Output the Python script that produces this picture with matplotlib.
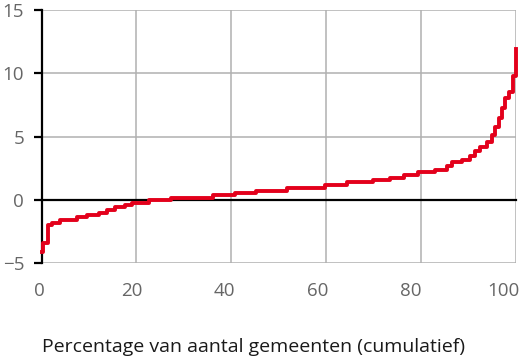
# -*- coding: utf-8 -*-

# Importing Libraries
import matplotlib
matplotlib.use('Agg')
import matplotlib.pyplot as plt
import matplotlib.transforms as mtransforms

# data: step points (x = cumulative %, y = value)
pct = [0, 0.4, 1.4, 2.3, 4.0, 7.5, 9.6, 12.1, 13.8, 15.6, 17.7, 19.1, 22.6,
       27.3, 36.2, 40.8, 45.3, 51.7, 59.8, 64.4, 70.0, 73.5, 76.5, 79.5,
       83.0, 85.5, 86.5, 88.6, 90.4, 91.5, 92.5, 93.9, 95.0, 95.7, 96.4,
       97.1, 97.8, 98.5, 99.4, 100]
values = [-4.1, -3.4, -1.95, -1.78, -1.58, -1.38, -1.2, -1.0, -0.8, -0.58,
          -0.38, -0.2, 0.03, 0.14, 0.36, 0.55, 0.74, 0.98, 1.22, 1.42,
          1.57, 1.77, 1.96, 2.2, 2.4, 2.7, 2.97, 3.18, 3.5, 3.83, 4.18, 4.6,
          5.12, 5.76, 6.45, 7.3, 8.03, 8.55, 9.82, 11.9]

x_ticks = [0, 20, 40, 60, 80, 100]
y_ticks = [-5, 0, 5, 10, 15]

font = 'Open Sans'
grey_text = '#666666'
red = '#e3001b'

fig = plt.figure(figsize=(5.32, 3.56), dpi=100)
ax = fig.add_axes([41.5 / 532, 1 - 263.3 / 356, (515.7 - 41.5) / 532, (263.3 - 10) / 356])

ax.step(pct, values, where='post', color=red, linewidth=2.8, clip_on=False, zorder=5)

ax.set_xlim(0, 100)
ax.set_ylim(-5, 15)

# grid
ax.set_xticks(x_ticks)
ax.set_yticks(y_ticks)
ax.grid(True, color='#b0b0b0', linewidth=1.1, zorder=0)
ax.set_axisbelow(True)

# spines
ax.spines['top'].set_visible(False)
ax.spines['right'].set_visible(False)
ax.spines['left'].set_linewidth(1.6)
ax.spines['left'].set_color('black')
ax.spines['bottom'].set_position(('data', 0))
ax.spines['bottom'].set_linewidth(1.6)
ax.spines['bottom'].set_color('black')
ax.spines['bottom'].set_zorder(4)

# ticks on zero line, no labels
ax.tick_params(axis='x', direction='out', length=4, width=1.6, color='black',
               labelbottom=False)
for t in ax.xaxis.get_major_ticks():
    if t.get_loc() == 0:
        t.tick1line.set_visible(False)

ax.tick_params(axis='y', direction='out', length=5.5, width=1.6, color='black',
               pad=7, labelsize=13.5, labelcolor=grey_text)
for lab in ax.get_yticklabels():
    lab.set_fontfamily(font)

# x labels below the plot area (slightly tighter spacing than the grid)
base = mtransforms.blended_transform_factory(ax.transData, ax.transAxes)
for v in x_ticks:
    dx = (-2.5 - 0.097 * v) / 100
    tr = base + mtransforms.ScaledTranslation(dx, 0, fig.dpi_scale_trans)
    ax.text(v, -0.111, str(v), transform=tr, ha='center', va='center',
            fontsize=13.5, family=font, color=grey_text)

fig.text(42 / 532, 1 - 347 / 356, 'Percentage van aantal gemeenten (cumulatief)',
         ha='left', va='center', fontsize=14.0, family=font, color='#1a1a1a')

fig.savefig('out.png', dpi=100)
